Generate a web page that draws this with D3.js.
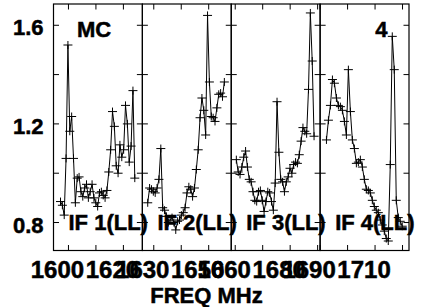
<!DOCTYPE html>
<html>
<head>
<meta charset="utf-8">
<script src="https://cdn.jsdelivr.net/npm/d3@7/dist/d3.min.js"></script>
<style>
  body { margin: 0; background: #fff; }
  text { font-family: 'Liberation Sans', Arial, sans-serif; font-weight: bold; fill: #000; stroke: #000; stroke-width: 0.5px; }
</style>
</head>
<body>
<div id="chart"></div>
<script>
// IF bands, frequencies in MHz
const ifNames = ['IF 1(LL)', 'IF 2(LL)', 'IF 3(LL)', 'IF 4(LL)'];
const bandLo = [1594.55, 1625.85, 1658.55, 1690.0];
const bandWidth = 32.36;
const chanFirst = [1597.1, 1627.8, 1660.4, 1692.3];
const chanLast = [1624.15, 1655.7, 1688.7, 1719.9];

// amplitudes per channel
const if1 = [0.885, 0.87, 0.83, 1.06, 1.52, 1.17, 1.23, 1.06, 0.88, 0.98, 0.985, 0.925, 0.905, 0.94,
  0.955, 0.90, 0.925, 0.955, 0.90, 0.88, 0.865, 0.92, 0.925, 0.91, 0.90, 0.93, 1.005, 1.095, 1.25,
  1.19, 1.03, 1.0, 1.115, 1.065, 1.095, 1.275, 1.20, 1.045, 1.11, 1.335, 0.98];
const if2 = [0.88, 0.94, 0.935, 0.925, 0.92, 0.94, 0.975, 1.10, 0.86, 0.85, 0.825, 0.80, 0.81, 0.82,
  0.80, 0.77, 0.805, 0.81, 0.83, 0.84, 0.86, 0.92, 0.945, 0.935, 0.905, 0.94, 1.015, 1.095, 1.225,
  1.305, 1.255, 1.155, 1.64, 1.37, 1.23, 1.225, 1.21, 1.265, 1.32, 1.325, 1.31, 1.37];
const if3 = [1.055, 1.005, 0.995, 1.025, 1.065, 1.09, 1.025, 0.975, 0.965, 0.925, 0.89, 0.885, 0.925,
  0.93, 0.89, 0.845, 0.885, 0.925, 0.92, 0.885, 0.85, 0.96, 1.29, 1.085, 0.975, 0.965, 0.925, 0.965,
  0.985, 1.02, 1.0, 1.035, 1.045, 1.04, 1.075, 1.13, 1.185, 1.17, 1.16, 1.34, 1.65, 1.455, 1.15];
const if4 = [1.135, 1.215, 1.275, 1.38, 1.365, 1.305, 1.275, 1.27, 1.255, 1.21, 1.155, 1.42, 1.25,
  1.135, 1.10, 1.04, 1.045, 1.055, 1.025, 0.975, 0.935, 0.93, 0.92, 0.89, 0.865, 0.85, 0.84, 0.81,
  0.79, 0.765, 0.735, 0.725, 1.035, 1.555, 1.42, 0.89, 0.82, 0.805, 0.785];
const series = [if1, if2, if3, if4];

// axis ticks
const yTicks = [0.8, 1.0, 1.2, 1.4, 1.6];
const yTickLabels = [0.8, 1.2, 1.6];
const xTickLabels = [[1600, 1620], [1630, 1650], [1660, 1680], [1690, 1710]];
const yDomain = [0.6865, 1.6863];

// plot box
const plot = { left: 53.5, top: 4, right: 409, bottom: 250.5 };
const panelW = (plot.right - plot.left) / 4;
const tickLen = 5.5;

const svg = d3.select('#chart').append('svg')
  .attr('width', 422)
  .attr('height', 307);

const y = d3.scaleLinear()
  .domain(yDomain)
  .range([plot.bottom, plot.top]);

series.forEach((values, i) => {
  const x0 = plot.left + i * panelW;
  const x = d3.scaleLinear()
    .domain([bandLo[i], bandLo[i] + bandWidth])
    .range([x0, x0 + panelW]);

  const g = svg.append('g');

  // panel frame
  g.append('rect')
    .attr('x', x0)
    .attr('y', plot.top)
    .attr('width', panelW)
    .attr('height', plot.bottom - plot.top)
    .attr('fill', 'none')
    .attr('stroke', '#000')
    .attr('stroke-width', 1.2);

  // x ticks, top and bottom, pointing in
  const xt = d3.range(Math.ceil(bandLo[i] / 10) * 10, bandLo[i] + bandWidth, 10);
  g.selectAll('.xt')
    .data(xt)
    .enter().append('path')
    .attr('d', d => `M${x(d)},${plot.bottom}v${-tickLen}M${x(d)},${plot.top}v${tickLen}`)
    .attr('stroke', '#000');

  // y ticks, both sides
  g.selectAll('.yt')
    .data(yTicks)
    .enter().append('path')
    .attr('d', d => `M${x0},${y(d)}h${tickLen}M${x0 + panelW},${y(d)}h${-tickLen}`)
    .attr('stroke', '#000');

  // channel positions
  const step = (chanLast[i] - chanFirst[i]) / (values.length - 1);
  const pts = values.map((v, k) => ({ f: chanFirst[i] + k * step, v: v }));

  const line = d3.line()
    .x(d => x(d.f))
    .y(d => y(d.v));

  g.append('path')
    .datum(pts)
    .attr('d', line)
    .attr('fill', 'none')
    .attr('stroke', '#000')
    .attr('stroke-width', 1);

  g.selectAll('.pt')
    .data(pts)
    .enter().append('path')
    .attr('d', d => `M${x(d.f) - 4.5},${y(d.v)}h9M${x(d.f)},${y(d.v) - 4}v8`)
    .attr('stroke', '#000')
    .attr('stroke-width', 1);

  // frequency labels
  svg.selectAll('.xl' + i)
    .data(xTickLabels[i])
    .enter().append('text')
    .attr('x', d => x(d) - 11)
    .attr('y', 278)
    .attr('text-anchor', 'middle')
    .style('font-size', '24px')
    .text(d => d);

  // IF name
  svg.append('text')
    .attr('class', 'ifname')
    .attr('x', x0 + 15)
    .attr('y', 230)
    .style('font-size', '22px')
    .text(ifNames[i]);
});

// y labels
svg.selectAll('.yl')
  .data(yTickLabels)
  .enter().append('text')
  .attr('x', 43.5)
  .attr('y', d => y(d) + 10)
  .attr('text-anchor', 'end')
  .style('font-size', '22px')
  .text(d => d.toFixed(1));

// corner labels
svg.append('text')
  .attr('x', 77)
  .attr('y', 36.5)
  .style('font-size', '22px')
  .text('MC');

svg.append('text')
  .attr('x', 387.5)
  .attr('y', 36.5)
  .attr('text-anchor', 'end')
  .style('font-size', '22px')
  .text('4');

svg.append('text')
  .attr('x', 206.5)
  .attr('y', 303)
  .attr('text-anchor', 'middle')
  .style('font-size', '22px')
  .text('FREQ MHz');
</script>
</body>
</html>
